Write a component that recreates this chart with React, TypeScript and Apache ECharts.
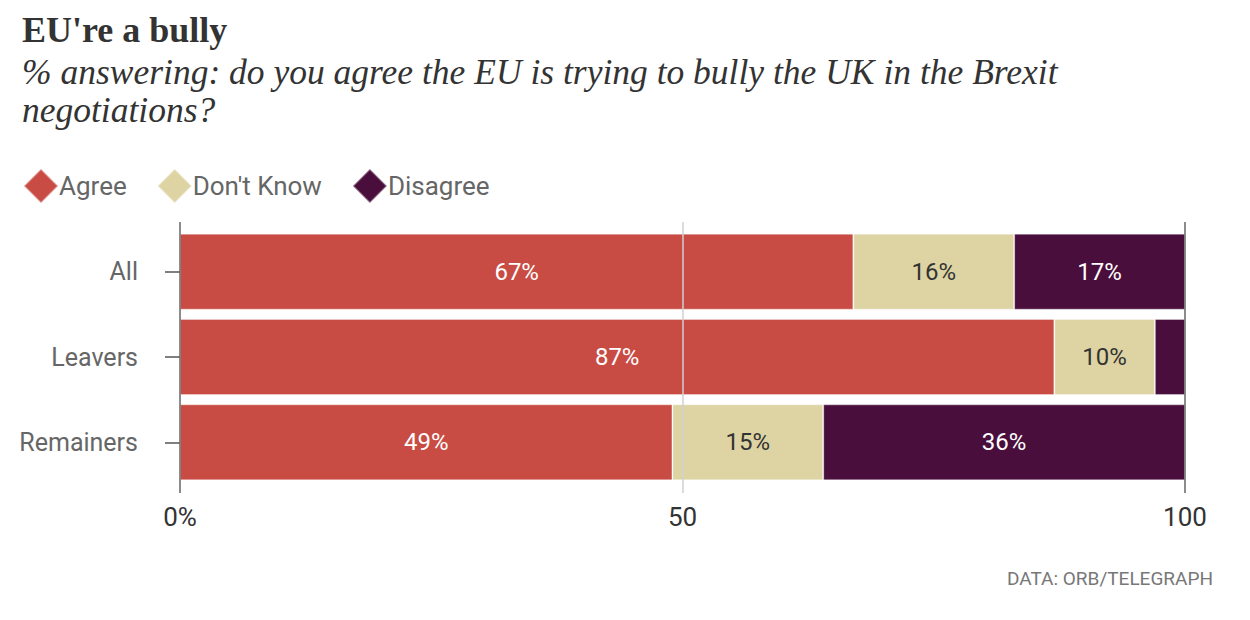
import React, { useEffect, useRef } from "react";
import * as echarts from "echarts";

const groups = ["All", "Leavers", "Remainers"];
const agree = [67, 87, 49];
const dontKnow = [16, 10, 15];
const disagree = [17, 3, 36];
const seriesNames = ["Agree", "Don't Know", "Disagree"];
const xTicks = [0, 50, 100];

const COLORS = ["#c84b44", "#ddd3a3", "#4a0e3c"];
const SANS = "'Roboto', 'Noto Sans', sans-serif";
const SERIF = "'Liberation Serif', 'DejaVu Serif', serif";

export default function App() {
  const ref = useRef<HTMLDivElement>(null);

  useEffect(() => {
    document.body.style.margin = "0";
    if (!ref.current) return;
    const chart = echarts.init(ref.current, null, { renderer: "svg" });

    const label = (color: string) => ({
      show: true,
      position: "inside",
      color,
      fontFamily: SANS,
      fontSize: 24,
      formatter: (p: any) => (p.value >= 5 ? `${p.value}%` : ""),
    });

    const values = [agree, dontKnow, disagree];
    const labelColors = ["#ffffff", "#333333", "#ffffff"];

    chart.setOption({
      animation: false,
      backgroundColor: "#ffffff",
      title: [
        {
          text: "EU're a bully",
          left: 22,
          top: 12,
          padding: 0,
          textStyle: { fontFamily: SERIF, fontWeight: "bold", fontSize: 36, color: "#333" },
        },
        {
          text: "% answering: do you agree the EU is trying to bully the UK in the Brexit\nnegotiations?",
          left: 22,
          top: 53,
          padding: 0,
          textStyle: {
            fontFamily: SERIF,
            fontStyle: "italic",
            fontWeight: "normal",
            fontSize: 35.5,
            lineHeight: 38,
            color: "#333",
          },
        },
        {
          text: "DATA: ORB/TELEGRAPH",
          right: 37,
          top: 569,
          padding: 0,
          textStyle: { fontFamily: SANS, fontWeight: "normal", fontSize: 19, color: "#777" },
        },
      ],
      legend: {
        left: 18,
        top: 163,
        icon: "diamond",
        itemWidth: 34,
        itemHeight: 34,
        itemGap: 30,
        textStyle: { fontFamily: SANS, fontSize: 26, color: "#666", padding: [0, 0, 0, -4] },
        data: seriesNames,
      },
      grid: [
        { left: 180, right: 65, top: 229, height: 256 },
        { left: 180, right: 65, top: 222, bottom: 127 },
      ],
      xAxis: [
        { type: "value", gridIndex: 0, min: 0, max: 100, show: false },
        {
          type: "value",
          gridIndex: 1,
          min: xTicks[0],
          max: xTicks[xTicks.length - 1],
          interval: xTicks[1] - xTicks[0],
          z: 10,
          axisLine: { show: false },
          axisTick: { show: false },
          splitLine: { show: true, lineStyle: { color: ["#666", "#d0d0d0"], width: 1.5 } },
          axisLabel: {
            margin: 11,
            fontFamily: SANS,
            fontSize: 26,
            color: "#333",
            formatter: (v: number) => (v === 0 ? "0%" : String(v)),
          },
        },
      ],
      yAxis: [
        {
          type: "category",
          gridIndex: 0,
          inverse: true,
          data: groups,
          axisLine: { show: false },
          axisTick: { show: true, alignWithLabel: true, length: 15, lineStyle: { color: "#555", width: 1.5 } },
          axisLabel: { margin: 42, fontFamily: SANS, fontSize: 25, color: "#666" },
        },
        { type: "value", gridIndex: 1, show: false },
      ],
      series: seriesNames.map((name, i) => ({
        name,
        type: "bar",
        stack: "total",
        xAxisIndex: 0,
        yAxisIndex: 0,
        barWidth: 76,
        itemStyle: { color: COLORS[i], borderColor: "rgba(255,255,255,0.35)", borderWidth: 1 },
        label: label(labelColors[i]),
        data: values[i],
      })),
    });

    return () => chart.dispose();
  }, []);

  return <div ref={ref} style={{ width: 1250, height: 620 }} />;
}
